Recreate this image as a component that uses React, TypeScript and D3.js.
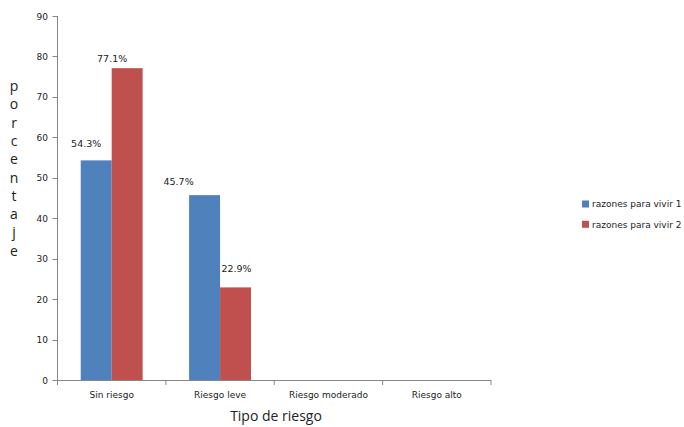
import React from "react";
import * as d3 from "d3";

const categories = ["Sin riesgo", "Riesgo leve", "Riesgo moderado", "Riesgo alto"];
const seriesNames = ["razones para vivir 1", "razones para vivir 2"];
const series1 = [54.3, 45.7, null, null];
const series2 = [77.1, 22.9, null, null];
const yTicks = [0, 10, 20, 30, 40, 50, 60, 70, 80, 90];
const colors = ["#4F81BD", "#C0504D"];
// label nudges (dx, dy) relative to bar top-center, mimicking the manually placed labels
const labelNudges: [number, number][][] = [
  [[-10, -13], [-15, -6]],
  [[-26, -10], [1, -15]],
  [[0, -6], [0, -6]],
  [[0, -6], [0, -6]],
];

const W = 684, H = 427;
const m = { left: 57.5, right: 491, top: 16, bottom: 380 };
const axisColor = "#868686";
const font = "'DejaVu Sans', Verdana, sans-serif";

export default function App() {
  const x0 = d3.scaleBand<string>().domain(categories).range([m.left, m.right]).paddingInner(0).paddingOuter(0);
  const x1 = d3.scaleBand<string>().domain(seriesNames).range([0, x0.bandwidth()]).paddingInner(0).paddingOuter(0.75);
  const y = d3.scaleLinear().domain([0, 90]).range([m.bottom, m.top]);
  const allSeries = [series1, series2];
  const boundaries = [...categories.map((c) => x0(c)!), m.right];
  const ylab = "porcentaje".split("");

  return (
    <svg width={W} height={H} style={{ position: "absolute", left: 0, top: 0, background: "#fff" }}>
      {/* y axis */}
      <line x1={m.left} x2={m.left} y1={y(90)} y2={y(0)} stroke={axisColor} strokeWidth={1} />
      {yTicks.map((t) => (
        <g key={t}>
          <line x1={m.left - 5} x2={m.left} y1={Math.round(y(t)) + 0.5} y2={Math.round(y(t)) + 0.5} stroke={axisColor} />
          <text x={48} y={y(t) + 3.5} textAnchor="end" fontFamily={font} fontSize={9} fill="#222">{t}</text>
        </g>
      ))}
      {/* bars */}
      {categories.map((c, ci) =>
        allSeries.map((s, si) => {
          const v = s[ci];
          if (v == null) return null;
          const bx = x0(c)! + x1(seriesNames[si])!;
          const bw = x1.bandwidth();
          const [dx, dy] = labelNudges[ci][si];
          return (
            <g key={c + si}>
              <rect x={bx} y={y(v)} width={bw} height={y(0) - y(v)} fill={colors[si]} />
              <text x={bx + bw / 2 + dx} y={y(v) + dy} textAnchor="middle" fontFamily={font} fontSize={9.5} fill="#222">
                {v.toFixed(1) + "%"}
              </text>
            </g>
          );
        })
      )}
      {/* x axis */}
      <line x1={m.left} x2={m.right} y1={m.bottom + 0.5} y2={m.bottom + 0.5} stroke={axisColor} />
      {boundaries.map((b, i) => (
        <line key={i} x1={b} x2={b} y1={m.bottom} y2={m.bottom + 5} stroke={axisColor} />
      ))}
      {categories.map((c) => (
        <text key={c} x={x0(c)! + x0.bandwidth() / 2} y={398} textAnchor="middle" fontFamily={font} fontSize={9} fill="#222">{c}</text>
      ))}
      {/* axis titles */}
      <text x={276} y={421} textAnchor="middle" fontFamily="'Open Sans', sans-serif" fontSize={14} fill="#222">Tipo de riesgo</text>
      {ylab.map((ch, i) => (
        <text key={i} x={14} y={91 + i * 18.3} textAnchor="middle" fontFamily="'Open Sans', sans-serif" fontSize={14} fill="#222">{ch}</text>
      ))}
      {/* legend */}
      {seriesNames.map((n, i) => (
        <g key={n} transform={`translate(582, ${204 + i * 20.3})`}>
          <rect x={0} y={-3.5} width={7} height={7} fill={colors[i]} />
          <text x={10} y={3.3} fontFamily={font} fontSize={9} fill="#222">{n}</text>
        </g>
      ))}
    </svg>
  );
}
